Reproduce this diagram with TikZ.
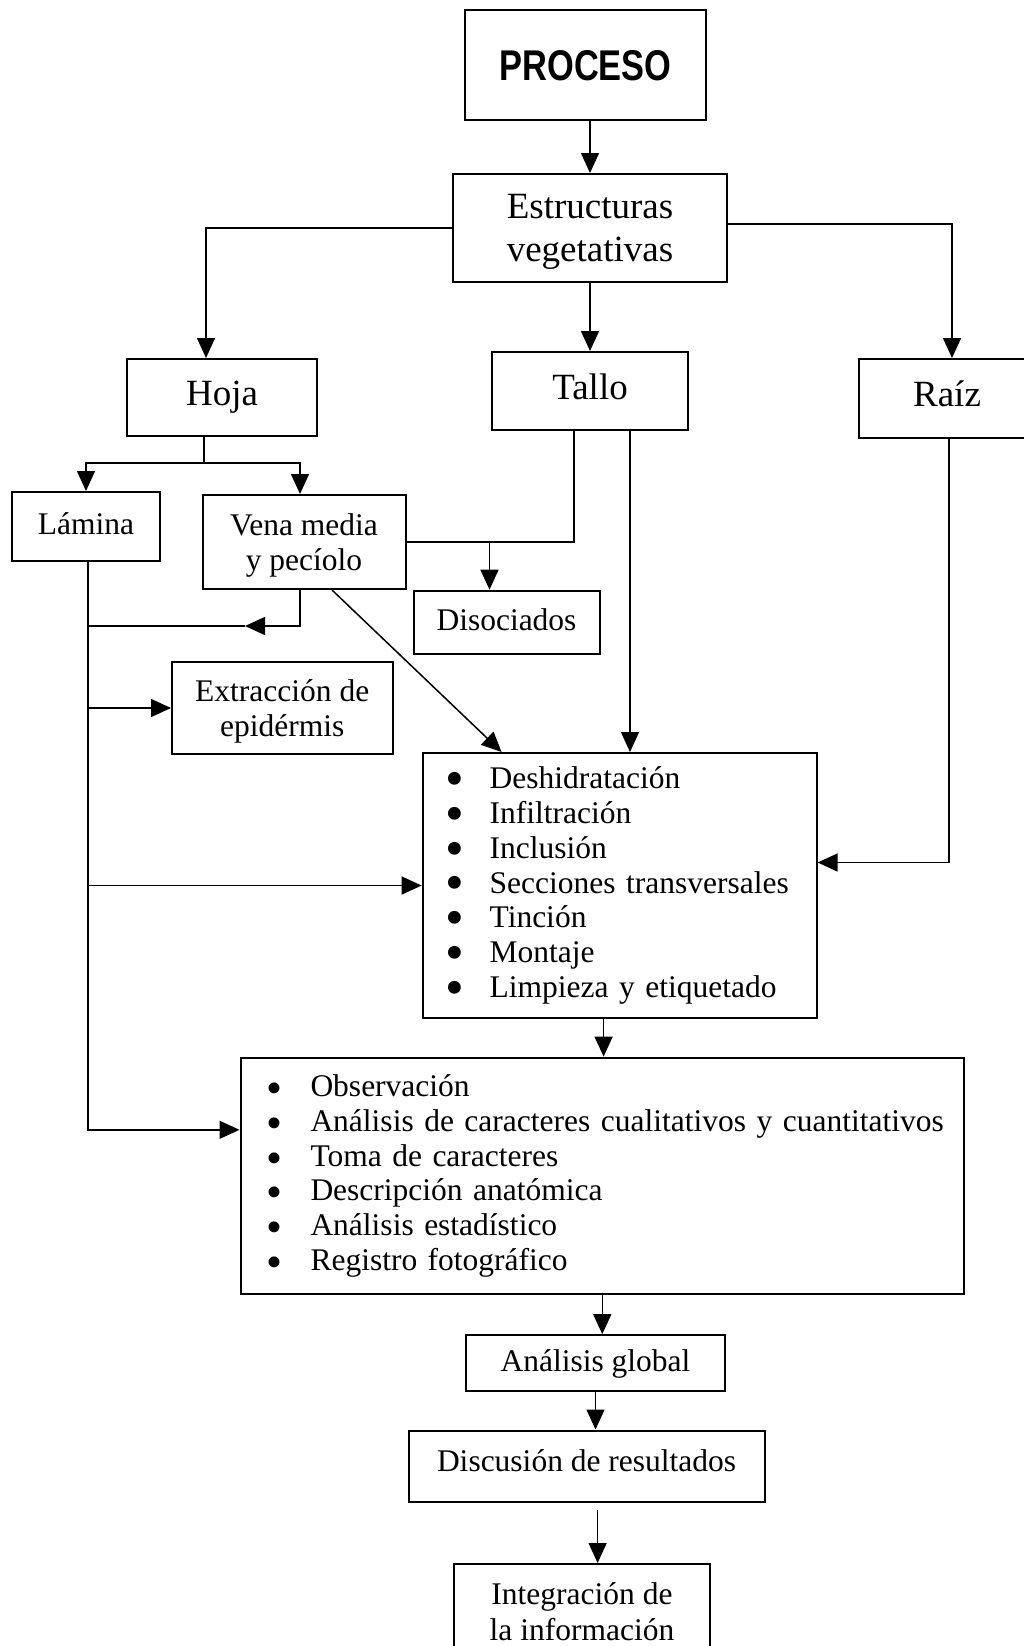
\documentclass[tikz,border=0pt]{standalone}
\usepackage{fontspec}
\setmainfont{Liberation Serif}
\newcommand{\bodysize}{\fontsize{31.5}{35.5}\selectfont}
\newfontfamily\headfont{Liberation Sans}
\usepackage{graphicx}
\usepackage{tikz}
\usetikzlibrary{arrows.meta}
\newcommand{\bigsize}{\fontsize{37}{43}\selectfont}
% bullet scale, bullet raise, item text
\newcommand{\stepitem}[3]{\mbox{\makebox[44pt][l]{\smash{\raisebox{#2}{\scalebox{#1}{\textbullet}}}}#3}}
\tikzset{
    plain-box/.style = {draw, line width=2pt, rectangle, inner sep=0pt, align=center, font=\bodysize},
    big-box/.style = {plain-box, font=\bigsize},
    one-line/.style = {text height=24pt, text depth=8pt},
    big-line/.style = {text height=26pt, text depth=10pt},
    list-box/.style = {draw, line width=2pt, rectangle, align=left, inner ysep=0pt, font={\fontsize{31.5}{34.7}\selectfont}},
    link/.style = {line width=1.5pt, -{Triangle[length=20pt,width=18pt]}},
    line/.style = {line width=1.5pt},
}

\begin{document}
\begin{tikzpicture}[x=1pt, y=-1pt]
\useasboundingbox (0,0) rectangle (1024,1646);

% boxes
\node[plain-box, minimum width=241pt, minimum height=109.5pt] (proceso) at (585.5,65.25)
    {\scalebox{0.8}[1]{\headfont\fontsize{43}{43}\selectfont\bfseries PROCESO}};
\node[big-box, text depth=-2pt, minimum width=274pt, minimum height=107.5pt] (estructuras) at (590,227.75) {Estructuras\\vegetativas};
\node[big-box, big-line, minimum width=190pt, minimum height=77pt] (hoja) at (222,397.5) {Hoja};
\node[big-box, big-line, minimum width=196pt, minimum height=78pt] (tallo) at (590,391) {Tallo};
\node[big-box, big-line, minimum width=176pt, minimum height=79pt] (raiz) at (947,398.5) {Raíz};
\node[plain-box, one-line, minimum width=148pt, minimum height=69pt] (lamina) at (86,526.5) {Lámina};
\node[plain-box, text depth=-1pt, minimum width=203pt, minimum height=94pt] (vena) at (304,542) {Vena media\\y pecíolo};
\node[plain-box, one-line, minimum width=186pt, minimum height=63pt] (disociados) at (506.5,622.2) {Disociados};
\node[plain-box, text depth=-7pt, minimum width=220.5pt, minimum height=92pt] (extraccion) at (282.25,708) {Extracción de\\epidérmis};
\node[list-box, inner xsep=23pt, text width=348pt, minimum height=265pt] (tecnica) at (619.6,885.5) {%
    \stepitem{1.7}{-0.25em}{Deshidratación}\\
    \stepitem{1.7}{-0.25em}{Infiltración}\\
    \stepitem{1.7}{-0.25em}{Inclusión}\\
    \stepitem{1.7}{-0.25em}{Secciones transversales}\\
    \stepitem{1.7}{-0.25em}{Tinción}\\
    \stepitem{1.7}{-0.25em}{Montaje}\\
    \stepitem{1.7}{-0.25em}{Limpieza y etiquetado}};
\node[list-box, inner xsep=26pt, text width=671.5pt, minimum height=236.4pt] (analisis) at (602.25,1175.8) {%
    \stepitem{1.45}{-0.23em}{Observación}\\
    \stepitem{1.45}{-0.23em}{Análisis de caracteres cualitativos y cuantitativos}\\
    \stepitem{1.45}{-0.23em}{Toma de caracteres}\\
    \stepitem{1.45}{-0.23em}{Descripción anatómica}\\
    \stepitem{1.45}{-0.23em}{Análisis estadístico}\\
    \stepitem{1.45}{-0.23em}{Registro fotográfico}};
\node[plain-box, one-line, minimum width=259pt, minimum height=55.6pt] (global) at (595.5,1363) {Análisis global};
\node[plain-box, one-line, text depth=14pt, minimum width=356pt, minimum height=71.5pt] (discusion) at (586.6,1466.25) {Discusión de resultados};
\node[plain-box, minimum width=256.3pt, minimum height=95pt] (integracion) at (582,1611.5) {Integración de\\la información};

% connectors
\draw[link] (proceso.south -| estructuras.north) -- (estructuras.north);
\draw[link] (estructuras.west) -| ([xshift=-16pt]hoja.north);
\draw[link] (estructuras.south) -- (tallo.north);
\draw[link] ([yshift=4pt]estructuras.east) -| ([xshift=5pt]raiz.north);

\draw[line] ([xshift=-18pt]hoja.south) -- ++(0,26) coordinate (hoja-split);
\draw[link] (hoja-split) -| (lamina.north);
\draw[link] (hoja-split) -| ([xshift=-4pt]vena.north);

\draw[line] ([xshift=-16pt]tallo.south) |- (vena.east);
\draw[link] ([xshift=-17pt]disociados.north |- vena.east) -- ([xshift=-17pt]disociados.north);
\draw[link] ([xshift=40pt]tallo.south) -- ([xshift=40pt]tallo.south |- tecnica.north);
\draw[link] ([xshift=2pt]raiz.south) |- ([yshift=23pt]tecnica.east);

\coordinate (lamina-line) at ([xshift=2pt]lamina.south);
\draw[link] ([xshift=-4pt]vena.south) -- ++(0,36) -- ++(-55,0) coordinate (vena-tip);
\draw[line] (vena-tip) -- (vena-tip -| lamina-line);
\draw[link] ([xshift=28pt]vena.south) -- ([xshift=-118pt]tecnica.north);

\draw[link] (lamina-line) |- ([yshift=46pt]analisis.west);
\draw[link] (lamina-line |- extraccion.west) -- (extraccion.west);
\draw[link] (lamina-line |- tecnica.west) -- (tecnica.west);

\draw[link] ([xshift=-16pt]tecnica.south) -- ([xshift=-16pt]tecnica.south |- analisis.north);
\draw[link] (analisis.south) -- (analisis.south |- global.north);
\draw[link] (global.south) -- (global.south |- discusion.north);
\draw[link] ([xshift=11pt,yshift=-7pt]discusion.south) -- ([xshift=11pt]discusion.south |- integracion.north);
\end{tikzpicture}
\end{document}
